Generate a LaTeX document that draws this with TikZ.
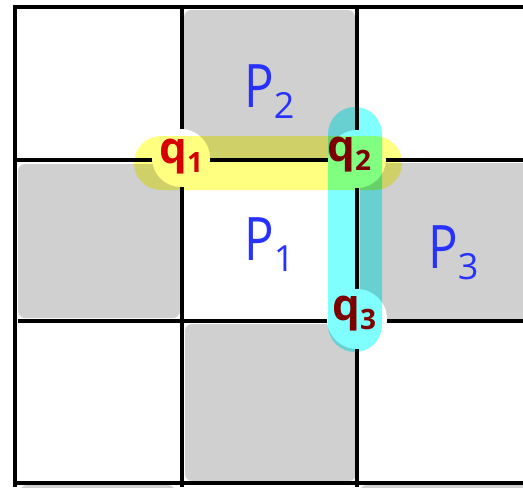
\documentclass[tikz,border=0pt]{standalone}
\usepackage{fontspec}
\setmainfont{Open Sans}
\newcommand\psubs[1]{\raisebox{-11pt}{\fontsize{36}{36}\selectfont #1}}
\newcommand\qsubs[1]{\raisebox{-9pt}{\fontsize{28}{28}\selectfont #1}}
\definecolor{cellgray}{RGB}{208,208,208}
\definecolor{hlyellow}{RGB}{255,255,128}
\definecolor{hlcyan}{RGB}{128,255,255}
\definecolor{pblue}{RGB}{40,50,255}
\definecolor{qred}{RGB}{215,0,0}
\definecolor{qdark}{RGB}{125,0,0}
\begin{document}
\begin{tikzpicture}[x=1pt,y=-1pt,
  cell/.style={fill=cellgray,rounded corners=7pt},
  gridline/.style={line width=3.6pt,black},
  eraser/.style={fill=white},
  hl/.style={rounded corners=27pt,blend mode=multiply},
  plabel/.style={text=pblue,font=\fontsize{60}{60}\selectfont,inner sep=0pt,anchor=base west},
  qlabel/.style={font=\fontsize{44}{44}\selectfont\bfseries,inner sep=0pt,anchor=base west}]
\useasboundingbox (0,0) rectangle (523,488);
\fill[white] (0,0) rectangle (523,488);
% gray cells
\fill[cell] (184,10) rectangle (355,158);
\fill[cell] (18,164) rectangle (180,318);
\fill[cell] (360,163) rectangle (535,319);
\fill[cell] (185,324) rectangle (356,481);
\fill[cell] (20,485) rectangle (175,500);
\fill[cell] (360,485) rectangle (535,500);
% grid
\draw[gridline] (13,7) -- (523,7);
\draw[gridline] (15,7) -- (15,487);
\draw[gridline] (182,7) -- (182,487);
\draw[gridline] (357,7) -- (357,487);
\draw[gridline] (15,160) -- (523,160);
\draw[gridline] (18,321) -- (523,321);
\draw[gridline] (15,483) -- (523,483);
% erasers behind labels
\fill[eraser] (181,158) circle (29);
\fill[eraser] (357,159) circle (29);
\fill[eraser] (357,319) circle (30);
% highlights
\fill[hl,hlyellow] (134,136) rectangle (402,190);
\fill[hl,hlcyan] (328,107) rectangle (382,352);
% labels
\node[plabel] (P2) at (244,107) {\scalebox{0.82}[1]{P}\psubs{2}};
\node[plabel] (P1) at (244,260) {\scalebox{0.82}[1]{P}\psubs{1}};
\node[plabel] (P3) at (428,268) {\scalebox{0.82}[1]{P}\psubs{3}};
\node[qlabel,text=qred] (q1) at (159,163) {q\qsubs{1}};
\node[qlabel,text=qdark] (q2) at (327,161) {q\qsubs{2}};
\node[qlabel,text=qdark] (q3) at (332,320) {q\qsubs{3}};
\end{tikzpicture}
\end{document}
